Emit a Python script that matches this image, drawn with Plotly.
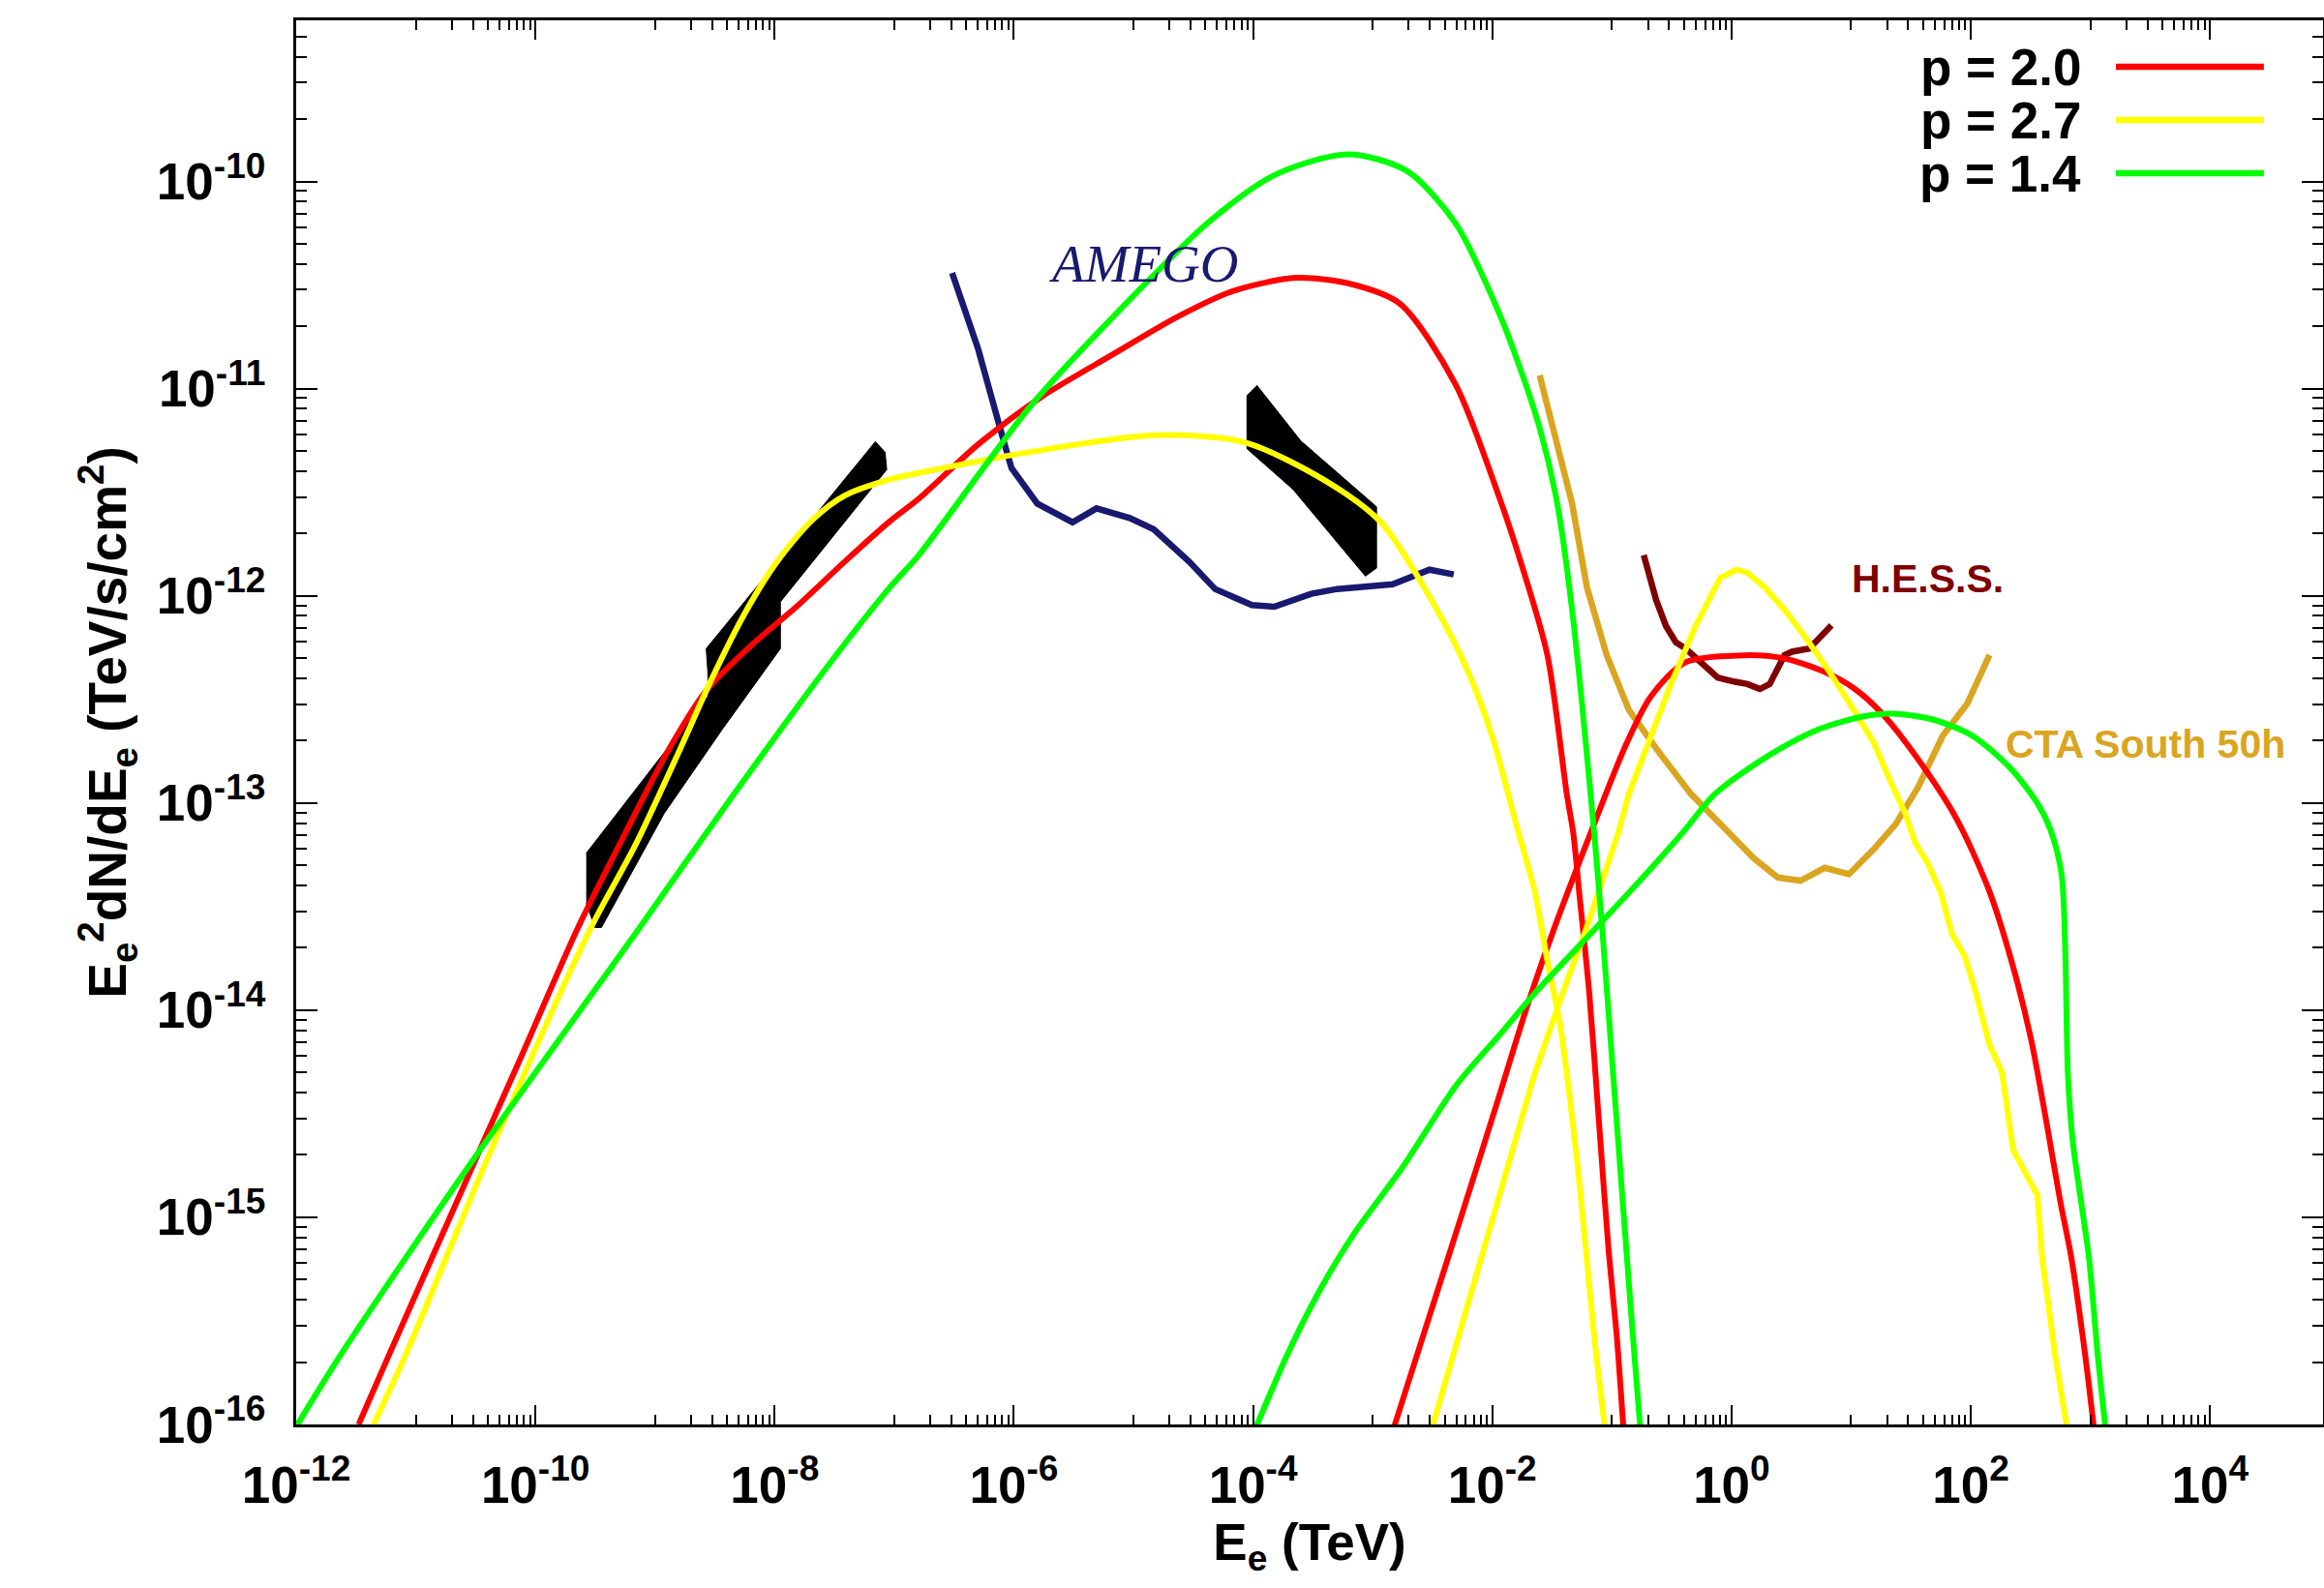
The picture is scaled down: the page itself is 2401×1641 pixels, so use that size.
import plotly.graph_objects as go

# ---------------- data: log10(E_e / TeV) and log10(E^2 dN/dE / TeV s^-1 cm^-2) ----------------
red_syn_logE = [-11.478, -11.223, -10.515, -10.10, -9.650, -9.300, -8.896, -8.572, -8.195, -7.818, -7.414,
                -7.036, -6.794, -6.30, -5.773, -5.185, -4.628, -4.164, -3.638, -3.174, -2.772, -2.308,
                -1.943, -1.75, -1.539, -1.378, -1.324, -1.270, -1.189, -1.108, -1.027, -0.960, -0.905]
red_syn_logF = [-16.0, -15.663, -14.74, -14.20, -13.609, -13.204, -12.753, -12.457, -12.239, -12.053, -11.835,
                -11.640, -11.531, -11.27, -11.041, -10.839, -10.652, -10.528, -10.465, -10.496, -10.590, -10.979,
                -11.523, -11.86, -12.288, -12.955, -13.142, -13.453, -13.920, -14.542, -15.165, -15.570, -16.01]

red_ic_logE = [-2.82, -2.577, -2.267, -1.970, -1.701, -1.485, -1.176, -0.886, -0.676, -0.391, 0.104, 0.438,
               0.772, 1.020, 1.255, 1.533, 1.884, 2.153, 2.341, 2.503, 2.638, 2.746, 2.841, 2.956, 3.028]
red_ic_logF = [-16.01, -15.570, -15.009, -14.465, -13.967, -13.609, -13.142, -12.723, -12.487, -12.323, -12.287,
               -12.302, -12.366, -12.445, -12.566, -12.768, -13.080, -13.422, -13.764, -14.138, -14.558, -14.916,
               -15.196, -15.663, -16.01]

yel_syn_logE = [-11.353, -11.084, -10.391, -9.542, -9.165, -8.788, -8.546, -8.249, -7.980, -7.683, -7.414,
                -7.036, -6.794, -5.866, -4.816, -4.071, -3.391, -2.926, -2.462, -2.20, -2.00, -1.782, -1.647,
                -1.539, -1.432, -1.297, -1.216, -1.149, -1.06]
yel_syn_logF = [-16.0, -15.663, -14.703, -13.609, -13.204, -12.737, -12.426, -12.084, -11.835, -11.633, -11.516,
                -11.438, -11.407, -11.306, -11.225, -11.259, -11.446, -11.648, -12.068, -12.37, -12.68, -13.142,
                -13.422, -13.764, -14.076, -14.698, -15.165, -15.570, -16.01]

yel_ic_logE = [-2.50, -2.280, -1.943, -1.647, -1.432, -1.216, -0.946, -0.858, -0.672, -0.507, -0.301, -0.094,
               0.042, 0.133, 0.278, 0.443, 0.608, 0.815, 1.021, 1.186, 1.344, 1.452, 1.533, 1.640, 1.748, 1.843,
               1.951, 2.045, 2.153, 2.261, 2.355, 2.449, 2.557, 2.597, 2.705, 2.802]
yel_ic_logF = [-16.01, -15.570, -14.885, -14.309, -13.951, -13.609, -13.142, -12.955, -12.675, -12.426, -12.146,
               -11.913, -11.874, -11.889, -11.959, -12.068, -12.193, -12.364, -12.550, -12.706, -12.916, -13.049,
               -13.189, -13.290, -13.430, -13.632, -13.741, -13.920, -14.161, -14.301, -14.675, -14.776, -14.893,
               -15.196, -15.663, -16.01]

grn_syn_logE = [-11.989, -11.627, -10.540, -9.138, -8.357, -7.548, -7.036, -6.794, -5.866, -5.131, -4.381,
                -3.827, -3.209, -2.714, -2.308, -1.943, -1.75, -1.604, -1.457, -1.333, -1.149, -1.081, -1.000,
                -0.919, -0.825, -0.764]
grn_syn_logF = [-16.0, -15.663, -14.739, -13.609, -12.971, -12.333, -11.959, -11.803, -11.088, -10.63, -10.201,
                -9.971, -9.869, -9.949, -10.201, -10.636, -10.93, -11.19, -11.555, -12.068, -13.142, -13.609,
                -14.231, -14.854, -15.570, -16.01]

grn_ic_logE = [-3.973, -3.714, -3.45, -3.156, -2.752, -2.293, -1.943, -1.647, -1.270, -0.866, -0.407, -0.136,
               0.319, 0.732, 1.104, 1.352, 1.682, 2.012, 2.341, 2.557, 2.664, 2.759, 2.813, 2.853, 2.988, 3.061,
               3.125]
grn_ic_logF = [-16.01, -15.663, -15.36, -15.079, -14.760, -14.356, -14.122, -13.920, -13.687, -13.438, -13.142,
               -12.955, -12.768, -12.644, -12.582, -12.569, -12.597, -12.675, -12.838, -13.002, -13.126, -13.344,
               -14.325, -14.636, -15.196, -15.663, -16.01]

amego_logE = [-6.516, -6.299, -6.082, -6.020, -5.804, -5.510, -5.309, -5.031, -4.830, -4.535, -4.318, -4.010,
              -3.824, -3.514, -3.297, -2.833, -2.525, -2.323]
amego_logF = [-10.442, -10.808, -11.259, -11.383, -11.555, -11.645, -11.578, -11.625, -11.679, -11.835, -11.967,
              -12.045, -12.053, -11.990, -11.967, -11.944, -11.874, -11.897]

hess_logE = [-0.734, -0.693, -0.630, -0.548, -0.466, -0.383, -0.259, -0.115, 0.030, 0.133, 0.237, 0.319, 0.443,
             0.505, 0.649, 0.732, 0.835]
hess_logF = [-11.803, -11.897, -12.021, -12.146, -12.224, -12.255, -12.317, -12.395, -12.415, -12.426, -12.450,
             -12.426, -12.286, -12.270, -12.255, -12.208, -12.143]

cta_logE = [-1.604, -1.40, -1.333, -1.209, -1.044, -0.858, -0.630, -0.342, -0.003, 0.185, 0.387, 0.577, 0.779,
            0.981, 1.183, 1.371, 1.560, 1.766, 1.971, 2.157]
cta_logF = [-10.936, -11.40, -11.555, -11.959, -12.286, -12.551, -12.737, -12.955, -13.157, -13.266, -13.360,
            -13.375, -13.313, -13.344, -13.227, -13.103, -12.924, -12.675, -12.520, -12.286]

# black butterfly (data) regions, outlines
band_lo_logE = [-9.575, -8.558, -8.558, -8.572, -7.158, -7.077, -7.063, -7.952, -7.952, -8.437, -8.922, -9.448,
                -9.502, -9.575]
band_lo_logF = [-13.243, -12.484, -12.370, -12.255, -11.256, -11.306, -11.391, -12.029, -12.255, -12.644, -13.049,
                -13.601, -13.601, -13.484]
band_hi_logE = [-3.964, -4.051, -4.051, -3.668, -3.061, -2.968, -2.968, -3.588]
band_hi_logF = [-10.984, -11.033, -11.290, -11.485, -11.905, -11.866, -11.570, -11.259]

legend_labels = ["p = 2.0", "p = 2.7", "p = 1.4"]
legend_colors = ["#ff0000", "#ffff00", "#00ff00"]

x_major_exp = [-12, -10, -8, -6, -4, -2, 0, 2, 4]
y_major_exp = [-16, -15, -14, -13, -12, -11, -10]


def lin(a):
    return [10.0 ** v for v in a]


FONT = "Liberation Sans, Arial, Helvetica, sans-serif"
fig = go.Figure()

for ex, fy in [(band_lo_logE, band_lo_logF), (band_hi_logE, band_hi_logF)]:
    fig.add_trace(go.Scatter(x=lin(ex), y=lin(fy), mode="lines", fill="toself", fillcolor="black",
                             line=dict(color="black", width=1), showlegend=False, hoverinfo="skip"))

fig.add_trace(go.Scatter(x=lin(amego_logE), y=lin(amego_logF), mode="lines", name="AMEGO",
                         line=dict(color="#191970", width=6.5), showlegend=False))
fig.add_trace(go.Scatter(x=lin(hess_logE), y=lin(hess_logF), mode="lines", name="H.E.S.S.",
                         line=dict(color="#800000", width=6.5), showlegend=False))
fig.add_trace(go.Scatter(x=lin(cta_logE), y=lin(cta_logF), mode="lines", name="CTA South 50h",
                         line=dict(color="#daa520", width=6.5), showlegend=False))

# (syn E, syn F, syn smooth?, ic E, ic F, ic smooth?, index)
model_sets = [
    (red_syn_logE, red_syn_logF, True, red_ic_logE, red_ic_logF, True, 0),
    (yel_syn_logE, yel_syn_logF, True, yel_ic_logE, yel_ic_logF, False, 1),
    (grn_syn_logE, grn_syn_logF, True, grn_ic_logE, grn_ic_logF, True, 2),
]
for se, sf, ss, ie, iff, iss, k in model_sets:
    for ex, fy, smooth in [(se, sf, ss), (ie, iff, iss)]:
        ln = dict(color=legend_colors[k], width=6)
        if smooth:
            ln.update(shape="spline", smoothing=0.8)
        fig.add_trace(go.Scatter(x=lin(ex), y=lin(fy), mode="lines", name=legend_labels[k],
                                 line=ln, showlegend=False))

# custom gnuplot-like key (text left, sample line right)
key_y = [0.9669, 0.9290, 0.8911]
for lab, col, yy in zip(legend_labels, legend_colors, key_y):
    fig.add_annotation(xref="paper", yref="paper", x=0.8816, y=yy, text=lab, showarrow=False,
                       xanchor="right", yanchor="middle",
                       font=dict(family=FONT, size=53, color="black", weight="bold"))
    fig.add_shape(type="line", xref="paper", yref="paper", x0=0.8978, x1=0.9708, y0=yy, y1=yy,
                  line=dict(color=col, width=6.5))

# instrument labels
fig.add_annotation(x=-5.727, y=-10.399, text="AMEGO", showarrow=False, xanchor="left", yanchor="middle",
                   font=dict(family="Liberation Serif, Times New Roman, serif", size=55, color="#191970",
                             style="italic"))
fig.add_annotation(x=0.988, y=-11.916, text="H.E.S.S.", showarrow=False, xanchor="left", yanchor="middle",
                   font=dict(family=FONT, size=41, color="#800000", weight="bold"))
fig.add_annotation(x=2.277, y=-12.717, text="CTA South 50h", showarrow=False, xanchor="left", yanchor="middle",
                   font=dict(family=FONT, size=41, color="#daa520", weight="bold"))

x_minor = [k * 10.0 ** d for d in [-11, -9, -7, -5, -3, -1, 1, 3] for k in range(1, 10)]
y_minor = [k * 10.0 ** d for d in range(-16, -9) for k in range(2, 10)]

tickfont = dict(family=FONT, size=53, color="black", weight="bold")
fig.update_xaxes(type="log", range=[-12, 4.945],
                 tickmode="array", tickvals=[10.0 ** e for e in x_major_exp],
                 ticktext=["10<sup>%d</sup>" % e for e in x_major_exp],
                 ticks="inside", ticklen=20, tickwidth=1.5, tickcolor="black",
                 minor=dict(tickmode="array", tickvals=x_minor, ticks="inside", ticklen=10, tickwidth=1.5,
                            tickcolor="black", showgrid=False),
                 showline=True, linewidth=3, linecolor="black", mirror="allticks",
                 showgrid=False, zeroline=False, tickfont=tickfont, ticklabelstandoff=14,
                 title=dict(text="E<sub>e</sub> (TeV)", standoff=10,
                            font=dict(family=FONT, size=53, color="black", weight="bold")))
fig.update_yaxes(type="log", range=[-16, -9.222],
                 tickmode="array", tickvals=[10.0 ** e for e in y_major_exp],
                 ticktext=["10<sup>%d</sup>" % e for e in y_major_exp],
                 ticks="inside", ticklen=22, tickwidth=1.5, tickcolor="black",
                 minor=dict(tickmode="array", tickvals=y_minor, ticks="inside", ticklen=11, tickwidth=1.5,
                            tickcolor="black", showgrid=False),
                 showline=True, linewidth=3, linecolor="black", mirror="allticks",
                 showgrid=False, zeroline=False, tickfont=tickfont, ticklabelstandoff=18,
                 title=dict(text="E<sub>e</sub><sup>2</sup>dN/dE<sub>e</sub> (TeV/s/cm<sup>2</sup>)", standoff=14,
                            font=dict(family=FONT, size=55, color="black", weight="bold")))

fig.update_layout(width=2401, height=1641, margin=dict(l=306, r=1, t=21, b=169, autoexpand=False),
                  paper_bgcolor="white", plot_bgcolor="white", showlegend=False)

fig.write_html("out.html", config={"displayModeBar": False},
               post_script="document.body.style.margin='0';")
